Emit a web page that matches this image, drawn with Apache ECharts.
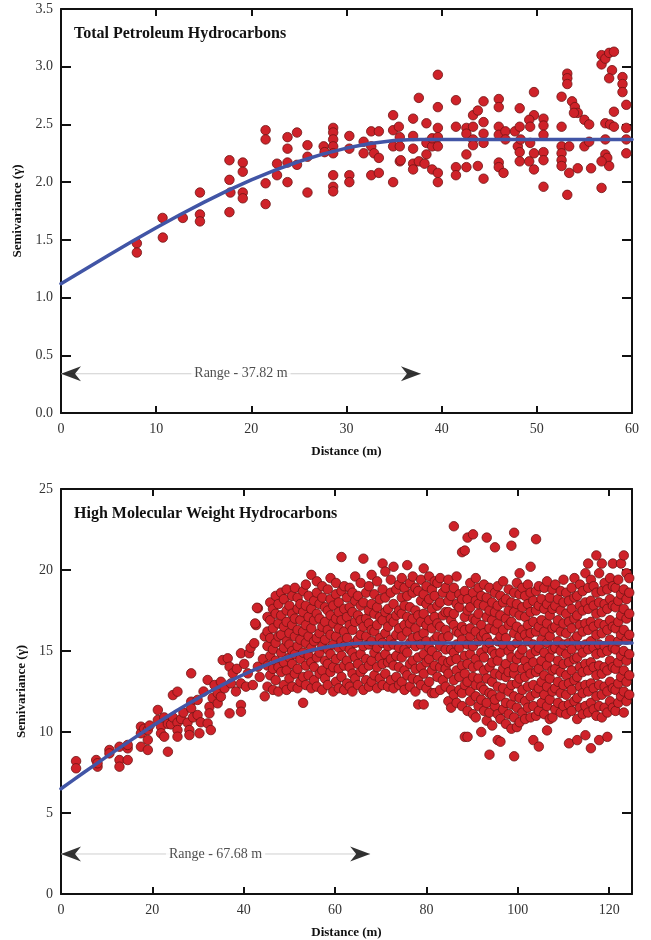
<!DOCTYPE html>
<html><head><meta charset="utf-8">
<script src="https://cdn.jsdelivr.net/npm/echarts@6/dist/echarts.min.js"></script>
<style>html,body{margin:0;padding:0;background:#fff}#c{width:651px;height:940px}</style>
</head><body><div id="c"></div>
<script>
const tphTitle = 'Total Petroleum Hydrocarbons';
const hmwTitle = 'High Molecular Weight Hydrocarbons';
const xName = 'Distance (m)';
const yName = 'Semivariance (γ)';

const tphXTicks = [0, 10, 20, 30, 40, 50, 60];
const tphYTicks = [0, 0.5, 1.0, 1.5, 2.0, 2.5, 3.0, 3.5];
const hmwXTicks = [0, 20, 40, 60, 80, 100, 120];
const hmwXMax = 125;
const hmwYTicks = [0, 5, 10, 15, 20, 25];

const tphRange = 37.82, tphRangeY = 0.34;
const hmwRange = 67.68, hmwRangeY = 2.47;

const tphCurveX = [0, 2.5, 5, 7.5, 10, 12.5, 15, 17.5, 20, 22.5, 25, 27.5, 30, 32.5, 35, 36.5, 37.82, 45, 52, 60];
const tphCurveY = [1.12, 1.244, 1.366, 1.487, 1.604, 1.717, 1.825, 1.926, 2.019, 2.104, 2.179, 2.243, 2.295, 2.335, 2.360, 2.368, 2.37, 2.37, 2.37, 2.37];
const hmwCurveX = [0, 2.5, 5, 7.5, 10, 12.5, 15, 17.5, 20, 22.5, 25, 27.5, 30, 32.5, 35, 37.5, 40, 42.5, 45, 47.5, 50, 52.5, 55, 57.5, 60, 62.5, 65, 67.68, 80, 100, 125];
const hmwCurveY = [6.5, 7.0, 7.5, 7.99, 8.48, 8.96, 9.44, 9.91, 10.37, 10.82, 11.26, 11.68, 12.09, 12.48, 12.86, 13.22, 13.55, 13.86, 14.15, 14.42, 14.66, 14.87, 15.06, 15.21, 15.33, 15.42, 15.48, 15.5, 15.5, 15.5, 15.5];

const tphPoints = [
[7.97,1.47],[7.97,1.39],[10.7,1.52],[10.67,1.69],[12.8,1.69],[14.6,1.72],[14.6,1.66],[14.6,1.91],
[17.7,2.19],[17.7,2.02],[17.8,1.91],[17.7,1.74],[19.1,2.17],[19.1,2.09],[19.1,1.91],[19.1,1.86],
[21.5,2.45],[21.5,2.37],[21.5,1.99],[21.5,1.81],[22.7,2.16],[22.7,2.06],[23.8,2.39],[23.8,2.29],[23.8,2.17],[23.8,2.0],
[24.8,2.43],[24.8,2.15],[25.9,2.32],[25.9,2.22],[25.9,1.91],[27.6,2.31],[27.7,2.26],
[28.6,2.47],[28.6,2.43],[28.6,2.37],[28.6,2.31],[28.6,2.25],[28.6,2.06],[28.6,1.96],[28.6,1.92],
[30.3,2.40],[30.3,2.29],[30.3,2.06],[30.3,2.0],[31.8,2.35],[31.8,2.25],
[32.6,2.44],[33.4,2.44],[32.6,2.31],[32.9,2.25],[33.4,2.21],[32.6,2.06],[33.4,2.08],
[34.9,2.58],[34.9,2.45],[35.5,2.48],[35.6,2.39],[34.9,2.31],[35.6,2.31],[35.6,2.18],[34.9,2.0],[35.7,2.19],
[37.0,2.55],[37.0,2.40],[37.0,2.29],[37.0,2.16],[37.0,2.11],[37.6,2.73],[37.6,2.18],
[38.4,2.51],[38.4,2.34],[38.4,2.24],[38.2,2.16],[39.0,2.11],[39.0,2.31],[39.0,2.38],
[39.6,2.93],[39.6,2.65],[39.6,2.47],[39.6,2.39],[39.6,2.31],[39.6,2.08],[39.6,2.0],
[41.5,2.71],[41.5,2.48],[41.5,2.13],[41.5,2.06],[42.6,2.47],[42.6,2.42],[42.6,2.24],[42.6,2.13],
[43.3,2.58],[43.3,2.48],[43.3,2.37],[43.3,2.32],[43.8,2.62],[43.8,2.14],
[44.4,2.70],[44.4,2.52],[44.4,2.42],[44.4,2.34],[44.4,2.03],
[46.0,2.72],[46.0,2.65],[46.0,2.48],[46.0,2.41],[46.0,2.17],[46.0,2.13],[46.5,2.08],[46.7,2.44],[46.7,2.37],
[47.7,2.44],[48.2,2.64],[48.2,2.48],[48.0,2.31],[48.3,2.37],[48.2,2.26],[48.2,2.18],
[49.7,2.78],[49.7,2.58],[49.2,2.54],[49.3,2.48],[49.3,2.34],[49.7,2.25],[49.2,2.18],[49.7,2.11],
[50.7,2.55],[50.7,2.49],[50.7,2.41],[50.7,2.26],[50.7,2.19],[50.7,1.96],
[53.2,2.94],[53.2,2.90],[53.2,2.85],[52.6,2.74],[52.6,2.48],[52.6,2.31],[52.6,2.25],[52.6,2.19],[52.6,2.14],[53.4,2.31],[53.4,2.08],[53.2,1.89],[54.3,2.12],
[53.7,2.70],[54.0,2.65],[54.3,2.60],[53.9,2.60],
[55.0,2.54],[55.5,2.50],[55.0,2.31],[55.5,2.35],[55.7,2.12],
[56.8,3.10],[56.8,3.02],[57.2,3.07],[57.6,3.12],[58.1,3.13],[57.9,2.97],[57.6,2.90],[58.1,2.61],[57.2,2.51],[57.7,2.50],[58.1,2.48],[57.2,2.37],[57.2,2.24],[57.4,2.21],[57.6,2.14],[56.8,2.18],[56.8,1.95],
[59.0,2.91],[59.0,2.85],[59.0,2.78],[59.4,2.67],[59.4,2.47],[59.4,2.37],[59.4,2.25]
];

const hmwNear = [
[3.3,8.2],[3.3,7.76],[7.7,8.27],[8.0,7.86],[8.0,8.07],[10.6,8.89],[10.6,8.68],[12.8,9.09],[12.8,8.27],[12.8,7.86],[14.6,8.99],[14.6,8.27],[14.6,9.2],
[17.5,10.33],[17.5,9.92],[17.5,9.09],[18.2,10.2],[19.0,10.12],[19.0,9.51],[19.0,8.89],[19.4,10.4],[21.2,11.36],[21.2,10.74],[21.9,10.33],[21.9,9.92],
[22.6,9.71],[22.6,10.9],[23.4,8.78],[23.4,10.5],[24.1,10.47],[24.5,12.28],[24.5,10.9],[25.5,12.49],[25.5,10.58],[25.5,10.12],[25.5,9.71],[26.3,10.8],[26.8,11.2],
[27.7,10.58],[28.1,10.12],[28.1,9.81],[28.5,13.62],[28.5,11.87],[28.5,11.46],[28.9,10.9],[29.9,11.98],[29.9,11.05],[30.3,9.92],[30.6,10.6],[31.2,12.5],
[32.1,13.21],[32.5,11.56],[32.5,11.15],[32.1,10.53],[32.8,10.12],[33.2,12.1],[33.6,12.9],[34.3,12.39],[34.3,11.77],[35.0,12.18],[35.0,13.1],[35.4,14.44],
[35.8,12.7],[36.5,14.55],[36.9,14.03],[36.9,11.15],[37.2,13.0],[37.6,13.62],[38.3,12.5],[38.5,13.9],[39.4,14.86],[39.4,13.0],[39.4,11.67],[39.4,11.25],
[40.1,14.2],[40.5,12.8],[40.9,13.62],[41.2,14.86],[41.5,15.2],[42.0,12.9],[42.3,15.48],[42.7,16.6],[43.1,17.64],[43.1,14.03],[43.5,13.4],[42.5,16.7],[42.9,17.67],
[44.2,14.5],[44.6,15.9],[44.6,12.2]
];

const hmwMidCols = [
[45.2,12.8,14.1,15.3,16.2,17.1],[45.8,13.5,14.7,15.8,16.9,18.0],[46.4,12.6,13.9,15.1,16.4,17.6],[47.0,13.2,14.4,15.5,17.3,18.4],
[47.6,12.5,14.0,15.9,16.7,17.9],[48.2,13.7,14.9,16.0,17.2,18.6],[48.8,12.9,14.3,15.2,16.5,18.2],[49.4,12.6,13.8,15.6,16.8,17.5,18.8],
[50.0,13.3,14.6,15.4,16.1,17.8],[50.6,12.8,14.2,15.0,16.6,17.3,18.4],[51.2,13.6,14.8,15.9,17.0,18.9],[51.8,12.7,13.9,15.3,16.3,17.6,18.3],
[52.4,13.1,14.5,15.7,16.9,17.9],[53.0,11.8,13.4,14.9,16.2,17.4,18.7],[53.6,12.9,14.1,15.5,16.6,17.8,19.1],[54.2,13.5,14.7,15.9,17.1,18.4],
[54.8,12.7,14.3,15.2,16.4,17.6,19.7],[55.4,13.2,14.0,15.6,16.9,18.1],[56.0,12.8,14.6,15.8,17.3,18.6,19.3],[56.6,13.6,14.9,16.1,17.0,17.9],
[57.2,12.6,13.8,15.3,16.5,18.3,19.0],[57.8,13.3,14.4,15.7,16.8,17.7],[58.4,12.9,14.2,15.1,16.3,17.5,18.8],[59.0,13.7,14.8,16.0,17.2,18.2,19.5],
[59.6,12.5,14.0,15.4,16.7,17.8],[60.2,13.1,14.5,15.9,17.0,18.5,19.2],[60.8,12.7,13.9,15.2,16.4,17.4,18.0],[61.4,13.4,14.7,15.6,16.9,18.7,20.8],
[62.0,12.6,14.1,15.3,16.2,17.6,19.0],[62.6,13.0,14.4,15.8,17.1,18.3],[63.2,12.8,14.0,15.1,16.6,17.7,18.9],[63.8,12.5,13.6,14.9,16.3,17.4,18.6],
[64.4,13.3,14.6,15.5,16.8,18.1,19.6],[65.0,12.9,14.2,15.7,17.2,18.4],[65.6,13.7,14.8,16.0,16.9,17.8,19.2],[66.2,12.6,13.9,15.3,16.5,18.0,20.7],
[66.8,13.2,14.5,15.9,17.0,18.6],[67.4,12.8,14.1,15.4,16.7,17.5,19.0],[68.0,13.1,14.4,15.6,16.3,17.9,19.7],[68.6,13.5,14.9,16.2,17.3,18.5],
[69.2,12.7,14.0,15.2,16.6,17.7,19.3],[69.8,13.3,14.6,15.8,17.1,18.2],[70.4,12.9,14.2,15.5,16.9,18.8,20.4],[71.0,13.6,14.8,16.1,17.4,18.3,19.9],
[71.6,12.8,14.3,15.3,16.5,17.6],[72.2,13.2,14.5,15.7,17.0,18.6,19.4],[72.8,12.7,14.1,15.4,16.8,17.9,20.2],[73.4,13.4,14.7,16.0,17.2,18.8],
[74.0,12.9,14.0,15.2,16.4,17.5,19.1],[74.6,13.1,14.6,15.9,17.3,18.3,19.5],[75.2,12.6,13.8,15.1,16.6,17.8,18.9],[75.8,13.5,14.9,16.2,17.1,18.4,20.3],
[76.4,12.8,14.2,15.5,16.7,17.7,19.2],[77.0,13.3,14.4,15.8,17.0,18.6,19.6],[77.6,12.5,13.9,15.3,16.4,17.5,18.9],[78.2,11.7,13.2,14.6,15.9,17.2,18.7],
[78.8,12.9,14.0,15.4,16.8,18.1,19.4],[79.4,11.7,13.6,14.8,16.1,17.3,18.5,20.1],[80.0,12.7,14.3,15.6,16.6,17.9,19.0],[80.6,13.1,14.5,15.2,16.9,18.2,19.6],
[81.2,12.4,13.8,15.0,16.4,17.6,18.8],[81.8,12.4,14.1,15.7,17.1,18.4,19.3],[82.4,13.4,14.7,15.9,16.7,17.8,19.2],[83.0,12.6,14.0,15.3,16.5,18.0,19.5],
[83.6,13.2,14.4,15.8,17.2,18.6],[84.2,12.8,13.9,15.1,16.3,17.4,18.9]
];

const hmwFarCols = [
[84.8,11.9,13.6,14.3,15.9,17.4,18.1,19.4],[85.4,11.5,12.6,14.4,15.1,16.9,18.4],[86.0,12.3,13.2,14.9,16.6,17.3,18.9,22.7],
[86.6,11.8,13.8,14.5,15.4,16.2,17.9,19.6],[87.2,12.6,13.4,15.2,16.1,17.7,18.5],[87.8,11.6,12.4,14.1,15.7,16.5,18.2,21.1],
[88.4,9.7,12.9,13.6,14.7,16.3,17.1,18.7,21.2],[89.0,9.7,11.3,13.1,14.2,15.4,17.5,18.2,22.0],[89.6,11.9,12.5,14.8,15.9,16.4,17.7,19.2],
[90.2,11.1,13.4,14.0,15.3,17.0,18.6,22.2],[90.8,10.9,12.2,12.9,14.5,16.2,16.9,18.1,19.5],[91.4,11.6,13.3,14.1,15.6,17.3,17.9,18.9],
[92.0,10.0,12.0,12.8,14.9,15.9,16.6,18.4],[92.6,11.3,12.6,13.8,14.6,16.1,17.8,19.1],[93.2,10.7,11.8,13.3,15.2,15.8,17.1,18.3,22.0],
[93.8,8.6,11.2,12.4,14.0,15.5,16.4,17.5,18.9],[94.4,10.4,12.3,13.1,14.3,15.0,16.9,18.0],[95.0,11.6,12.0,13.6,14.8,16.3,17.4,18.6,21.4],
[95.6,9.5,11.1,12.8,14.4,15.6,16.7,17.8,19.0],[96.2,9.4,10.8,12.2,13.5,14.9,15.9,17.2,18.4],[96.8,11.4,12.7,13.9,15.4,16.3,18.0,19.3],
[97.4,10.5,11.8,13.4,14.2,15.8,17.0,18.2],[98.0,11.1,12.5,13.7,15.0,16.6,17.5,18.8],[98.6,10.2,11.7,12.9,14.6,15.3,16.8,18.0,21.5],
[99.2,8.5,10.9,12.2,13.6,14.0,16.1,17.4,18.6,22.3],[99.8,10.3,11.5,13.0,14.5,15.5,16.5,17.9,19.2],[100.4,10.6,12.1,13.3,14.8,15.9,17.2,18.5,19.8],
[101.0,11.2,12.6,13.9,15.1,16.3,17.7,18.9],[101.6,10.8,11.9,13.4,14.4,16.0,17.1,18.4],[102.2,11.5,12.8,14.0,15.6,16.6,17.9,19.1],
[102.8,10.9,12.2,13.6,14.8,16.1,17.4,18.6,20.2],[103.4,9.5,11.6,12.9,14.3,15.4,16.8,18.1],[104.0,11.0,12.4,13.7,15.0,16.2,17.5,18.7,21.9],
[104.6,9.1,11.3,12.7,13.9,15.2,16.5,17.8,19.0],[105.2,11.8,13.1,14.4,15.7,16.9,18.2],[105.8,11.1,12.3,13.5,14.9,16.2,17.6,18.9],
[106.4,10.1,11.6,12.8,14.1,15.5,16.7,17.9,19.3],[107.0,10.8,12.0,13.3,14.6,15.9,17.2,18.3],[107.6,10.9,12.5,13.8,15.1,16.4,17.6,18.8],
[108.2,11.4,12.7,13.9,15.2,16.5,17.8,19.1],[108.8,11.8,13.1,14.4,15.6,16.9,18.2],[109.4,11.2,12.4,13.7,15.0,16.2,17.5,18.7],
[110.0,11.6,12.9,14.2,15.4,16.7,18.0,19.4],[110.6,11.1,12.3,13.5,14.8,16.1,17.3,18.6],[111.2,9.3,11.7,13.0,14.3,15.5,16.8,18.1],
[111.8,11.3,12.6,13.8,15.1,16.4,17.6,18.9],[112.4,11.9,13.2,14.5,15.7,17.0,18.3,19.5],[113.0,9.5,10.8,12.1,13.4,14.6,15.9,17.2,18.4],
[113.6,11.5,12.8,14.0,15.3,16.6,17.8,19.1],[114.2,11.1,12.4,13.7,14.9,16.2,17.5,18.7],[114.8,9.8,11.6,12.9,14.2,15.4,16.7,18.0,19.8],
[115.4,11.2,12.5,13.8,15.1,16.3,17.6,18.9,20.4],[116.0,9.0,11.8,13.0,14.3,15.6,16.8,18.1,19.4],[116.6,11.4,12.7,14.0,15.2,16.5,17.8,19.0],
[117.2,11.0,12.2,13.5,14.8,16.0,17.3,18.6,20.9],[117.8,9.5,11.6,12.9,14.1,15.4,16.7,18.0,19.8],[118.4,10.9,12.3,13.6,14.9,16.1,17.4,18.7,20.4],
[119.0,11.5,12.8,14.0,15.3,16.6,17.9,19.2],[119.6,9.7,11.2,12.5,13.8,15.0,16.3,17.6,18.8],[120.2,11.9,13.1,14.4,15.7,16.9,18.2,19.5],
[120.8,11.5,12.7,14.0,15.2,16.5,17.8,19.0,20.4],[121.4,11.3,12.6,13.9,15.1,16.4,17.7,18.9],[122.0,11.8,13.0,14.3,15.6,16.8,18.1,19.4],
[122.6,12.2,13.4,14.7,16.0,17.2,18.5,20.4],[123.2,11.2,12.5,13.8,15.0,16.3,17.6,18.8,20.9],[123.8,11.9,13.1,14.4,15.7,17.0,18.2,19.8],
[124.4,12.3,13.5,14.8,16.0,17.3,18.6,19.5]
];

function cols2pts(cols){ const out=[]; cols.forEach(c=>{ for(let i=1;i<c.length;i++) out.push([c[0],c[i]]); }); return out; }
function zip(xs, ys){ return xs.map((x,i)=>[x, ys[i]]); }
const hmwPoints = hmwNear.concat(cols2pts(hmwMidCols), cols2pts(hmwFarCols));

const F = "'Liberation Serif','Times New Roman',serif";
const INK = '#111';
const DOT = '#cf2229', DOTB = '#6e1414', CURVE = '#4155a6';

function xAx(g, ticks, max, pos, lab, showMax){
  return {type:'value', gridIndex:g, position:pos, min:ticks[0], max:max, interval:ticks[1]-ticks[0],
    axisLine:{show:true, onZero:false, lineStyle:{color:INK, width:2}},
    axisTick:{show:true, inside:true, length:7, lineStyle:{color:INK, width:2}},
    axisLabel:{show:lab, color:'#333', fontFamily:F, fontSize:14, margin:9, showMaxLabel:showMax},
    splitLine:{show:false},
    name: lab ? xName : '', nameLocation:'middle', nameGap:32,
    nameTextStyle:{color:INK, fontFamily:F, fontWeight:'bold', fontSize:13}};
}
function yAx(g, ticks, pos, lab, fmt){
  return {type:'value', gridIndex:g, position:pos, min:ticks[0], max:ticks[ticks.length-1], interval:ticks[1]-ticks[0],
    axisLine:{show:true, onZero:false, lineStyle:{color:INK, width:2}},
    axisTick:{show:true, inside:true, length:10, lineStyle:{color:INK, width:2}},
    axisLabel:{show:lab, color:'#333', fontFamily:F, fontSize:14, margin:8, formatter:fmt},
    splitLine:{show:false},
    name: lab ? yName : '', nameLocation:'middle', nameGap:31,
    nameTextStyle:{color:INK, fontFamily:F, fontWeight:'bold', fontSize:13}};
}
const arrowL = 'path://M0,5 L10,0 L7,5 L10,10 Z';
const arrowR = 'path://M10,5 L0,0 L3,5 L0,10 Z';
function rangeSeries(xi, yi, r, y){
  return [
    {type:'line', xAxisIndex:xi, yAxisIndex:yi, data:[[0,y],[r,y]], showSymbol:false, symbol:'none',
     lineStyle:{color:'#cfcfcf', width:1}, z:4, silent:true},
    {type:'scatter', xAxisIndex:xi, yAxisIndex:yi, z:5, silent:true,
     data:[{value:[0,y], symbol:arrowL, symbolOffset:[10,0]},{value:[r,y], symbol:arrowR, symbolOffset:[-10,0]}],
     symbolSize:[20,15], itemStyle:{color:'#000'}},
    {type:'scatter', xAxisIndex:xi, yAxisIndex:yi, z:6, silent:true, symbolSize:0,
     data:[[r/2,y]],
     label:{show:true, position:'inside', formatter:'Range - '+r.toFixed(2)+' m', color:'#222', fontFamily:F, fontSize:14,
       backgroundColor:'#fff', padding:[1,3]}}
  ];
}
function dots(xi, yi, pts){
  return {type:'scatter', xAxisIndex:xi, yAxisIndex:yi, data:pts, symbolSize:9.5, z:2, silent:true,
    itemStyle:{color:DOT, borderColor:DOTB, borderWidth:0.8, opacity:1}};
}
function curve(xi, yi, pts){
  return {type:'line', xAxisIndex:xi, yAxisIndex:yi, data:pts, smooth:false, showSymbol:false, symbol:'none',
    lineStyle:{color:CURVE, width:3.5, join:'round', cap:'round'}, z:3, silent:true};
}

const chart = echarts.init(document.getElementById('c'), null, {renderer:'canvas'});
chart.setOption({
  animation:false, backgroundColor:'#fff',
  title:[
    {text:tphTitle, left:74, top:26, padding:0, textStyle:{color:INK, fontFamily:F, fontWeight:'bold', fontSize:16}},
    {text:hmwTitle, left:74, top:506, padding:0, textStyle:{color:INK, fontFamily:F, fontWeight:'bold', fontSize:16}}
  ],
  grid:[{left:61, top:9, width:571, height:404}, {left:61, top:489, width:571, height:405}],
  xAxis:[xAx(0, tphXTicks, tphXTicks[tphXTicks.length-1], 'bottom', true, true), xAx(0, tphXTicks, tphXTicks[tphXTicks.length-1], 'top', false, true),
         xAx(1, hmwXTicks, hmwXMax, 'bottom', true, false), xAx(1, hmwXTicks, hmwXMax, 'top', false, false)],
  yAxis:[yAx(0, tphYTicks, 'left', true, v=>v.toFixed(1)), yAx(0, tphYTicks, 'right', false),
         yAx(1, hmwYTicks, 'left', true, v=>String(v)), yAx(1, hmwYTicks, 'right', false)],
  series:[
    dots(0,0,tphPoints), curve(0,0,zip(tphCurveX,tphCurveY)), ...rangeSeries(0,0,tphRange,tphRangeY),
    dots(2,2,hmwPoints), curve(2,2,zip(hmwCurveX,hmwCurveY)), ...rangeSeries(2,2,hmwRange,hmwRangeY)
  ]
});
</script></body></html>
